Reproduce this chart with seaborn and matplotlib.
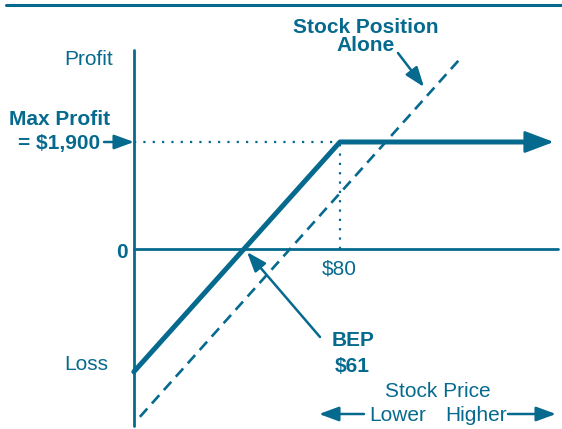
import matplotlib
matplotlib.use("Agg")
import matplotlib.pyplot as plt
import seaborn as sns
from matplotlib.lines import Line2D

# ---- data (price in $, profit in $) ----
covered_price = [39.2, 80.0, 117.0]
covered_profit = [-2180, 1900, 1900]
arrow_end_price = 122.3
stock_price = [40.4, 104.0]
stock_profit = [-2980, 3400]
cap_price = 80
max_profit = 1900
bep_price = 61
axis_price = 39.2
axis_profit_range = [-3143, 3534]
zero_line_price = [39.2, 123.2]

C = "#066A8E"
W, H = 562, 429
XL = (12.71, 123.94)
YL = (-3196, 4421)

sns.set_style("white")
plt.rcParams["font.family"] = ["Liberation Sans", "DejaVu Sans"]

fig = plt.figure(figsize=(W / 100, H / 100), dpi=100)
ax = fig.add_axes([0, 0, 1, 1])
ax.set_xlim(*XL)
ax.set_ylim(*YL)
ax.axis("off")


def P(x, y):
    return (x / W, 1 - y / H)


# axes
sns.lineplot(x=[axis_price, axis_price], y=axis_profit_range, ax=ax, color=C, lw=2.0,
             estimator=None, sort=False)
sns.lineplot(x=zero_line_price, y=[0, 0], ax=ax, color=C, lw=2.0,
             estimator=None, sort=False)

# dotted guides
ax.plot([axis_price, cap_price], [max_profit, max_profit], color=C, lw=1.6,
        linestyle=(0, (1, 3.2)))
ax.plot([cap_price, cap_price], [0, max_profit], color=C, lw=1.6,
        linestyle=(0, (1, 3.2)))

# stock alone (dashed)
sns.lineplot(x=stock_price, y=stock_profit, ax=ax, color=C, lw=1.9,
             linestyle=(0, (4.2, 2.6)), estimator=None, sort=False)

# covered position payoff
sns.lineplot(x=covered_price, y=covered_profit, ax=ax, color=C, lw=3.6,
             estimator=None, sort=False)
ax.annotate("", xy=(arrow_end_price, max_profit), xytext=(covered_price[-1] - 1, max_profit),
            arrowprops=dict(arrowstyle="-|>,head_length=0.9,head_width=0.34",
                            color=C, lw=2.0, mutation_scale=20, shrinkA=0, shrinkB=0))

# top border
fig.add_artist(Line2D([6 / W, 1], [1 - 5 / H, 1 - 5 / H], color=C, lw=2.2,
                      transform=fig.transFigure))

fs = 15
reg = dict(color=C, fontsize=fs, transform=ax.transAxes, va="baseline")
bold = dict(reg, fontweight="bold")

ax.text(*P(113, 65), "Profit", ha="right", **reg)
ax.text(*P(60, 125), "Max Profit", ha="center", **bold)
ax.text(*P(59, 149), "= $1,900", ha="center", **bold)
ax.text(*P(128, 258), "0", ha="right", **bold)
ax.text(*P(108, 370), "Loss", ha="right", **reg)
ax.text(*P(339, 274), "$80", ha="center", **reg)
ax.text(*P(353, 346), "BEP", ha="center", **bold)
ax.text(*P(352, 372), "$61", ha="center", **bold)
ax.text(*P(366, 33), "Stock Position", ha="center", **bold)
ax.text(*P(366, 51), "Alone", ha="center", **bold)
ax.text(*P(438, 397), "Stock Price", ha="center", **reg)
ax.text(*P(398, 421), "Lower", ha="center", **reg)
ax.text(*P(476, 421), "Higher", ha="center", **reg)

arr = dict(arrowstyle="-|>,head_length=0.6,head_width=0.22", color=C, lw=1.8,
           mutation_scale=20, shrinkA=0, shrinkB=0)


def arrow(x0, y0, x1, y1):
    ax.annotate("", xy=P(x1, y1), xytext=P(x0, y0), xycoords="axes fraction",
                textcoords="axes fraction", arrowprops=arr)


arrow(104, 142, 134, 142)
arrow(320, 337, 247, 252)
arrow(398, 53, 424, 87)
arrow(364, 414, 319, 414)
arrow(508, 414, 556, 414)

fig.savefig("out.png", dpi=100, facecolor="white")
